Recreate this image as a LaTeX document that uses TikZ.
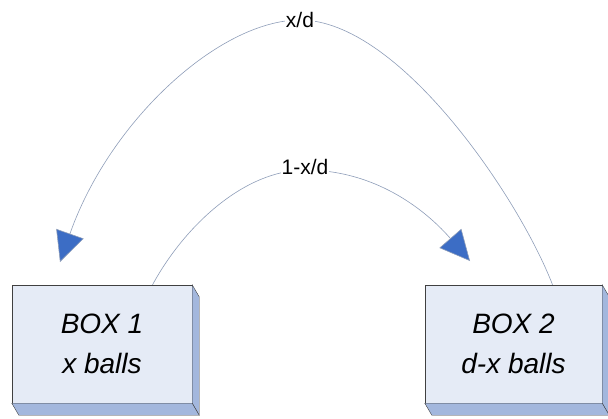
\documentclass[tikz,border=0pt]{standalone}
\usepackage{fontspec}
\setmainfont{Liberation Sans}
\usepackage{tikz}
\usetikzlibrary{arrows.meta, calc}
\definecolor{boxface}{HTML}{E5EBF6}
\definecolor{boxside}{HTML}{A3B7DD}
\definecolor{arcline}{HTML}{8E9DB8}
\definecolor{tipblue}{HTML}{3C6DC5}

\begin{document}
\begin{tikzpicture}[x=1pt, y=-1pt,
  box/.style={draw=black!75, fill=boxface, minimum width=180pt,
    minimum height=118pt, inner sep=0pt, align=center,
    font=\fontsize{28}{40}\selectfont\itshape},
  side/.style={draw=black!75, fill=boxside},
  arc/.style={draw=arcline, line width=0.6pt,
    -{Triangle[length=30pt, width=29pt, fill=tipblue]}},
  lbl/.style={fill=white, inner sep=1pt, font=\fontsize{21}{24}\selectfont}
]
  \useasboundingbox (0,0) rectangle (608,418);

  % Boxes
  \node[box] (box1) at (102,344) {BOX 1\\x balls};
  \node[box, minimum width=177pt] (box2) at (513.5,344) {BOX 2\\d-x balls};

  % 3D sides
  \foreach \b in {box1, box2} {
    \draw[side] (\b.north east) -- ++(7,12) -- ($(\b.south east)+(7,12)$)
      -- (\b.south east) -- cycle;
    \draw[side] (\b.south west) -- (\b.south east) -- ++(7,12)
      -- ($(\b.south west)+(7,12)$) -- cycle;
  }

  % Arc ends
  \coordinate (s1) at ($(box1.north west)!0.78!(box1.north east)$);
  \coordinate (s2) at ($(box2.north west)!0.72!(box2.north east)$);
  \coordinate (tipA) at (60,262);
  \coordinate (tipB) at (470,261);

  % Box 2 to box 1
  \draw[arc] (s2) .. controls (520,200) and (400,20) .. (300,20)
    node[lbl] (xd) {x/d}
    .. controls (220,20) and (110,120) .. (tipA);

  % Box 1 to box 2
  \draw[arc] (s1) .. controls (185,225) and (245,170) .. (305,170)
    node[lbl, yshift=3pt] (onexd) {1-x/d}
    .. controls (380,170) and (430,215) .. (tipB);
\end{tikzpicture}
\end{document}
